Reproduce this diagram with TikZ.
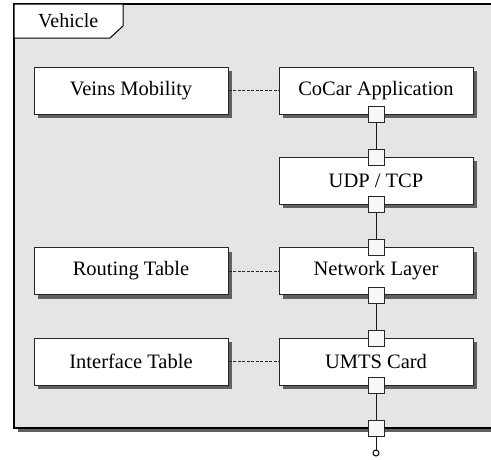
\documentclass[tikz,border=0pt]{standalone}
\usepackage{fontspec}
\setmainfont{Liberation Serif}
\usetikzlibrary{shadows}
\begin{document}
\begin{tikzpicture}[x=1pt,y=-1pt,
  shad/.style={drop shadow={shadow xshift=4pt,shadow yshift=-4pt,fill=black!62,opacity=1}},
  comp/.style={draw=black!85,line width=1pt,fill=white,minimum width=194pt,minimum height=47pt,inner sep=0pt,shad,font=\fontsize{20.5}{24}\selectfont},
  port/.style={draw=black!85,line width=1pt,fill=black!3,minimum size=16pt,inner sep=0pt},
  link/.style={line width=1pt,black!90},
  dep/.style={line width=0.9pt,black!85,dash pattern=on 3pt off 1.5pt}]
\useasboundingbox (0,0) rectangle (491,459);
\begin{scope}
\clip (0,0) rectangle (491,459);
\fill[black!62] (17.5,7.5) rectangle (510,432);
\draw[line width=1.1pt,fill=black!10] (14,4) rectangle (505,428);
\draw[line width=1pt,fill=white] (14,4) -- (123,4) -- (123,26) -- (110,38) -- (14,38) -- cycle;
\end{scope}
\node[anchor=west,inner sep=0pt,font=\fontsize{20}{24}\selectfont] (title) at (38,21) {Vehicle};

\node[comp] (veins) at (131,90.5) {Veins Mobility};
\node[comp] (cocar) at (376,90.5) {CoCar Application};
\node[comp] (udp) at (376,180.5) {UDP / TCP};
\node[comp] (routing) at (131,271) {Routing Table};
\node[comp] (net) at (376,271) {Network Layer};
\node[comp] (iface) at (131,361.5) {Interface Table};
\node[comp] (umts) at (376,361.5) {UMTS Card};

\node[port] (p1) at (376,114) {};
\node[port] (p2) at (376,157) {};
\node[port] (p3) at (376,204) {};
\node[port] (p4) at (376,247) {};
\node[port] (p5) at (376,295) {};
\node[port] (p6) at (376,338) {};
\node[port] (p7) at (376,385) {};
\node[port] (p8) at (376,428) {};
\node[draw,line width=1pt,fill=white,circle,minimum size=6pt,inner sep=0pt] (end) at (376,453) {};

\draw[link] (p1.south) -- (p2.north);
\draw[link] (p3.south) -- (p4.north);
\draw[link] (p5.south) -- (p6.north);
\draw[link] (p7.south) -- (p8.north);
\draw[link] (p8.south) -- (end.north);

\draw[dep] (veins.east) -- (cocar.west);
\draw[dep] (routing.east) -- (net.west);
\draw[dep] (iface.east) -- (umts.west);
\end{tikzpicture}
\end{document}
